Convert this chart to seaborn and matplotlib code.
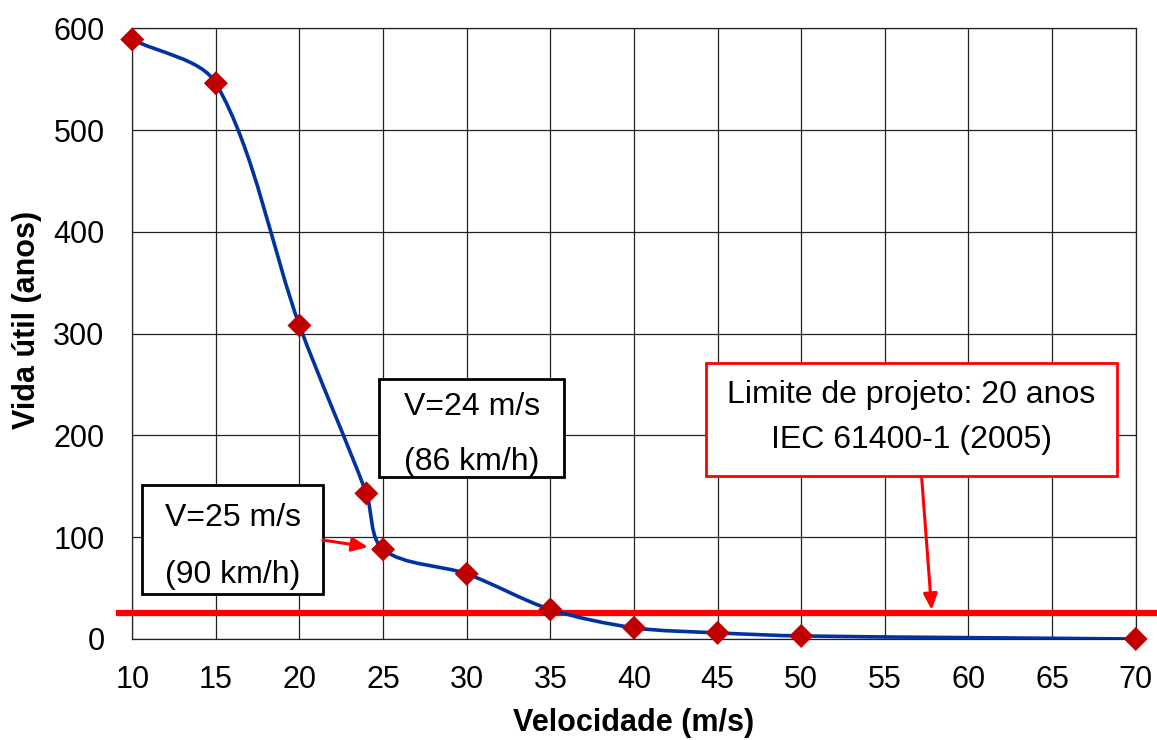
import numpy as np
import pandas as pd
import seaborn as sns
import matplotlib
matplotlib.use("Agg")
import matplotlib.pyplot as plt
from matplotlib.path import Path
from matplotlib.patches import PathPatch, Rectangle

# Wind speed (m/s) and estimated service life (years)
velocidade = [10, 15, 20, 24, 25, 30, 35, 40, 45, 50, 70]
vida_util = [589, 546, 308, 143, 88, 64, 29, 11, 6, 3, 0]
limite_projeto = 26

x_ticks = list(range(10, 75, 5))
y_ticks = list(range(0, 700, 100))

df = pd.DataFrame({"Velocidade": velocidade, "Vida": vida_util})

sns.set_theme(style="white")
plt.rcParams["font.family"] = ["Liberation Sans", "DejaVu Sans"]
plt.rcParams["text.color"] = "black"
plt.rcParams["axes.labelcolor"] = "black"

fig = plt.figure(figsize=(11.57, 7.40), dpi=100)
ax = fig.add_axes([0.1143, 0.1365, 0.8673, 0.8253])
ax.set_xlim(10, 70)
ax.set_ylim(0, 600)


def smooth_path(xs, ys, ax, s=0.3):
    """Bezier path through the points, tangents built in display space."""
    fig.canvas.draw()
    to_disp = ax.transData
    pts = to_disp.transform(np.column_stack([xs, ys]))
    n = len(pts)
    tang = []
    for i in range(n):
        a = pts[max(i - 1, 0)]
        b = pts[min(i + 1, n - 1)]
        d = b - a
        tang.append(d / np.hypot(*d))
    verts = [pts[0]]
    codes = [Path.MOVETO]
    for i in range(n - 1):
        seg = np.hypot(*(pts[i + 1] - pts[i]))
        c1 = pts[i] + tang[i] * seg * s
        c2 = pts[i + 1] - tang[i + 1] * seg * s
        verts += [c1, c2, pts[i + 1]]
        codes += [Path.CURVE4] * 3
    verts = to_disp.inverted().transform(np.array(verts))
    return Path(verts, codes)


grid_kw = dict(color="#222222", lw=0.9)
ax.set_xticks(x_ticks)
ax.set_yticks(y_ticks)
ax.grid(True, **grid_kw)
for sp in ax.spines.values():
    sp.set_visible(True)
    sp.set_color("#222222")
    sp.set_linewidth(0.9)
ax.set_axisbelow(True)

# design limit line, running past the plotting area
ax.plot([9.05, 71.5], [limite_projeto, limite_projeto], color="#FF0000",
        lw=4.5, clip_on=False, zorder=3, solid_capstyle="butt")

# smoothed service-life curve
curve = PathPatch(smooth_path(velocidade, vida_util, ax), facecolor="none",
                  edgecolor="#0033A0", lw=2.6, zorder=4)
ax.add_patch(curve)

sns.scatterplot(data=df, x="Velocidade", y="Vida", marker="D", s=150,
                color="#C00000", edgecolor="none", zorder=5, ax=ax,
                legend=False, clip_on=False)

ax.tick_params(axis="both", which="both", length=0, labelsize=22, colors="black")
ax.tick_params(axis="x", pad=19)
ax.tick_params(axis="y", pad=20)
ax.set_xlabel("Velocidade (m/s)", fontsize=22, fontweight="bold", labelpad=9)
ax.set_ylabel("Vida útil (anos)", fontsize=22, fontweight="bold", labelpad=16)
ax.yaxis.set_label_coords(-0.0895, 0.522)

# annotation boxes
def box(x0, x1, y0, y1, ec):
    ax.add_patch(Rectangle((x0, y0), x1 - x0, y1 - y0, facecolor="white",
                           edgecolor=ec, lw=2, zorder=6))

txt_kw = dict(ha="center", va="center", fontsize=23, color="black", zorder=7)

box(24.75, 35.8, 159.1, 255.4, "black")
ax.text(30.3, 228.2, "V=24 m/s", **txt_kw)
ax.text(30.3, 174.2, "(86 km/h)", **txt_kw)

box(10.58, 21.4, 44.2, 151.3, "black")
ax.text(16.0, 118.9, "V=25 m/s", **txt_kw)
ax.text(16.0, 62.9, "(90 km/h)", **txt_kw)

box(44.3, 68.9, 160.1, 271.4, "#FF0000")
ax.text(56.6, 239.7, "Limite de projeto: 20 anos", **txt_kw)
ax.text(56.6, 195.5, "IEC 61400-1 (2005)", **txt_kw)

arrow_kw = dict(arrowstyle="-|>,head_length=0.8,head_width=0.35", color="#FF0000",
                lw=2.2, shrinkA=0, shrinkB=0)
ax.annotate("", xy=(24.1, 90.4), xytext=(21.4, 97.2), arrowprops=arrow_kw, zorder=6)
ax.annotate("", xy=(57.8, 28.5), xytext=(57.2, 159.1), arrowprops=arrow_kw, zorder=6)

fig.savefig("out.png", dpi=100, facecolor="white")
